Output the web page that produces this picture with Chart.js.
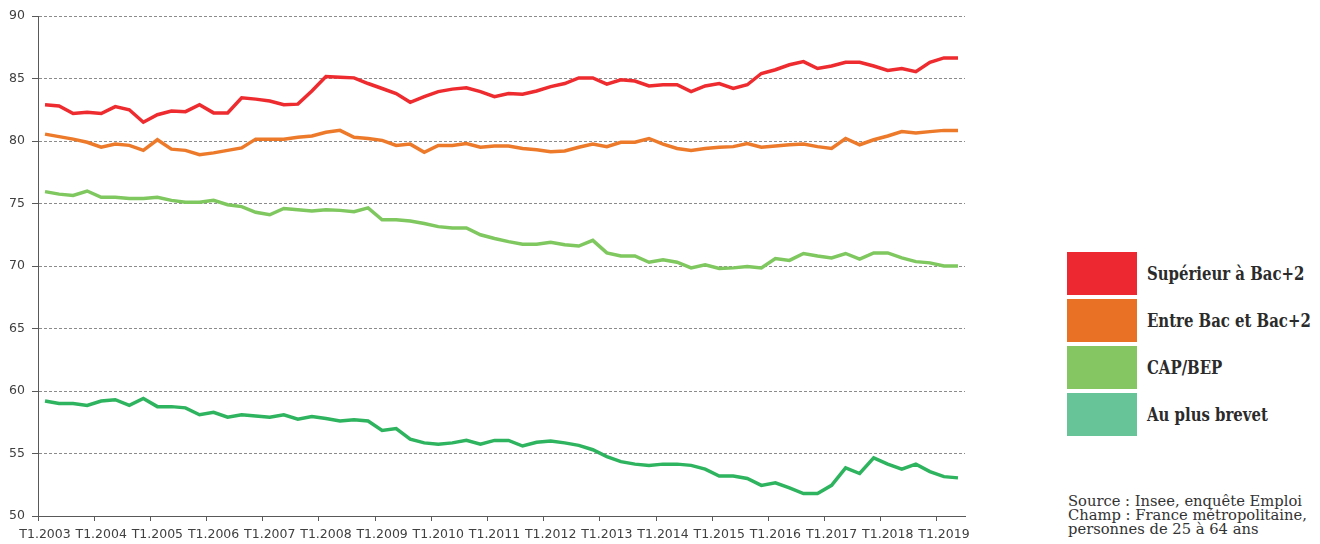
<!DOCTYPE html>
<html>
<head>
<meta charset="utf-8">
<script src="https://cdn.jsdelivr.net/npm/chart.js@4"></script>
<style>
  body { margin: 0; background: #fff; width: 1320px; height: 544px; overflow: hidden; position: relative; }
  #wrap { position: absolute; left: 0; top: 0; width: 1000px; height: 544px; }
  #legend { position: absolute; left: 1067px; top: 252px; }
  .item { height: 43px; margin-bottom: 4px; display: flex; align-items: center; }
  .box { width: 70px; height: 43px; margin-right: 10px; flex: none; }
  .lbl { font: bold 18px "DejaVu Serif", serif; font-stretch: condensed; color: #2b2b2b; white-space: nowrap; display: inline-block; transform: scaleX(0.92); transform-origin: left center; }
  #source { position: absolute; left: 1068px; top: 494px; font: 15.5px/14px "DejaVu Serif", serif; color: #333; white-space: nowrap; transform: scaleX(0.95); transform-origin: left top; }
</style>
</head>
<body>
<div id="wrap"><canvas id="chart"></canvas></div>
<div id="legend"></div>
<div id="source">Source : Insee, enquête Emploi<br>Champ : France métropolitaine,<br>personnes de 25 à 64 ans</div>
<script>
var firstYear = 2003;
var lastYear = 2019;
var lastQuarter = 2;

var names = ['Supérieur à Bac+2', 'Entre Bac et Bac+2', 'CAP/BEP', 'Au plus brevet'];
var lineColors = ['#ee2b2f', '#ed7a2b', '#7fc75f', '#2eb35f'];
var boxColors = ['#ee2830', '#e87125', '#86c662', '#67c398'];

var superieur = [82.9, 82.8, 82.2, 82.3, 82.2, 82.75, 82.5, 81.5, 82.1, 82.4, 82.35, 82.9, 82.25, 82.25, 83.45, 83.35, 83.2, 82.9, 82.95, 84.0, 85.15, 85.1,
  85.05, 84.6, 84.2, 83.8, 83.1, 83.55, 83.95, 84.15, 84.25, 83.95, 83.55, 83.8, 83.75, 84.0, 84.35, 84.6, 85.05, 85.05, 84.55, 84.9, 84.8, 84.4,
  84.5, 84.5, 83.95, 84.4, 84.6, 84.2, 84.5, 85.4, 85.7, 86.1, 86.35, 85.8, 86.0, 86.3, 86.3, 86.0, 85.65, 85.8, 85.55, 86.3, 86.65, 86.65];
var entreBac = [80.55, 80.35, 80.15, 79.9, 79.5, 79.75, 79.65, 79.25, 80.1, 79.35, 79.25, 78.9, 79.05, 79.25, 79.45, 80.15, 80.15, 80.15, 80.3, 80.4, 80.7, 80.85,
  80.3, 80.2, 80.05, 79.65, 79.75, 79.1, 79.65, 79.65, 79.8, 79.5, 79.6, 79.6, 79.4, 79.3, 79.15, 79.2, 79.5, 79.75, 79.55, 79.9, 79.9, 80.2,
  79.75, 79.4, 79.25, 79.4, 79.5, 79.55, 79.8, 79.5, 79.6, 79.7, 79.75, 79.55, 79.4, 80.2, 79.7, 80.1, 80.4, 80.75, 80.65, 80.75, 80.85, 80.85];
var capBep = [75.95, 75.75, 75.65, 76.0, 75.5, 75.5, 75.4, 75.4, 75.5, 75.25, 75.1, 75.1, 75.25, 74.9, 74.75, 74.3, 74.1, 74.6, 74.5, 74.4, 74.5, 74.45,
  74.35, 74.65, 73.7, 73.7, 73.6, 73.4, 73.15, 73.05, 73.05, 72.5, 72.2, 71.95, 71.75, 71.75, 71.9, 71.7, 71.6, 72.05, 71.05, 70.8, 70.8, 70.3,
  70.5, 70.3, 69.85, 70.1, 69.8, 69.85, 69.95, 69.85, 70.6, 70.45, 71.0, 70.8, 70.65, 71.0, 70.55, 71.05, 71.05, 70.65, 70.35, 70.25, 70.0, 70.0];
var brevet = [59.2, 59.0, 59.0, 58.85, 59.2, 59.3, 58.85, 59.4, 58.75, 58.75, 58.65, 58.1, 58.3, 57.9, 58.1, 58.0, 57.9, 58.1, 57.75, 57.95, 57.8, 57.6,
  57.7, 57.6, 56.85, 57.0, 56.15, 55.85, 55.75, 55.85, 56.05, 55.75, 56.05, 56.05, 55.6, 55.9, 56.0, 55.85, 55.65, 55.3, 54.75, 54.35, 54.15, 54.05,
  54.15, 54.15, 54.05, 53.75, 53.2, 53.2, 53.0, 52.45, 52.65, 52.25, 51.8, 51.8, 52.45, 53.85, 53.4, 54.65, 54.15, 53.75, 54.15, 53.55, 53.15, 53.05];

// quarter labels T1.2003 ... T2.2019
var quarters = [];
for (var y = firstYear; y <= lastYear; y++) {
  for (var q = 1; q <= 4; q++) {
    if (y === lastYear && q > lastQuarter) break;
    quarters.push('T' + q + '.' + y);
  }
}

var series = [superieur, entreBac, capBep, brevet];

var legend = document.getElementById('legend');
names.forEach(function(n, i) {
  legend.innerHTML += '<div class="item"><div class="box" style="background:' + boxColors[i] + '"></div><span class="lbl">' + n + '</span></div>';
});

var axisColor = '#595959';
var ctx = document.getElementById('chart').getContext('2d');
var chart = new Chart(ctx, {
  type: 'line',
  data: {
    labels: quarters,
    datasets: series.map(function(d, i) {
      return {
        label: names[i],
        data: d,
        borderColor: lineColors[i],
        backgroundColor: lineColors[i],
        borderWidth: 3.5,
        pointRadius: 0,
        tension: 0,
        fill: false
      };
    })
  },
  options: {
    responsive: true,
    maintainAspectRatio: false,
    animation: false,
    layout: { padding: { top: 16, right: 35, left: 0, bottom: 0 } },
    plugins: { legend: { display: false }, tooltip: { enabled: false } },
    scales: {
      x: {
        offset: true,
        grid: {
          offset: true,
          drawOnChartArea: false,
          tickLength: 5,
          tickColor: function(c) { return c.index % 4 === 0 ? axisColor : 'rgba(0,0,0,0)'; }
        },
        border: { color: axisColor, width: 1 },
        ticks: {
          autoSkip: false,
          maxRotation: 0,
          padding: 6,
          color: '#404040',
          font: { family: 'DejaVu Sans', size: 12.5 },
          callback: function(v, i) { return i % 4 === 0 ? quarters[i] : ''; }
        },
        afterFit: function(axis) { axis.height = 28; }
      },
      y: {
        min: 50,
        max: 90,
        ticks: {
          stepSize: 5,
          padding: 7,
          color: '#404040',
          font: { family: 'DejaVu Sans', size: 12.5 }
        },
        grid: { color: '#8c8c8c', lineWidth: 1, tickLength: 6, tickColor: axisColor, tickBorderDash: [] },
        border: { color: axisColor, width: 1, dash: [3, 2] },
        afterFit: function(axis) { axis.width = 38; }
      }
    }
  }
});
</script>
</body>
</html>
